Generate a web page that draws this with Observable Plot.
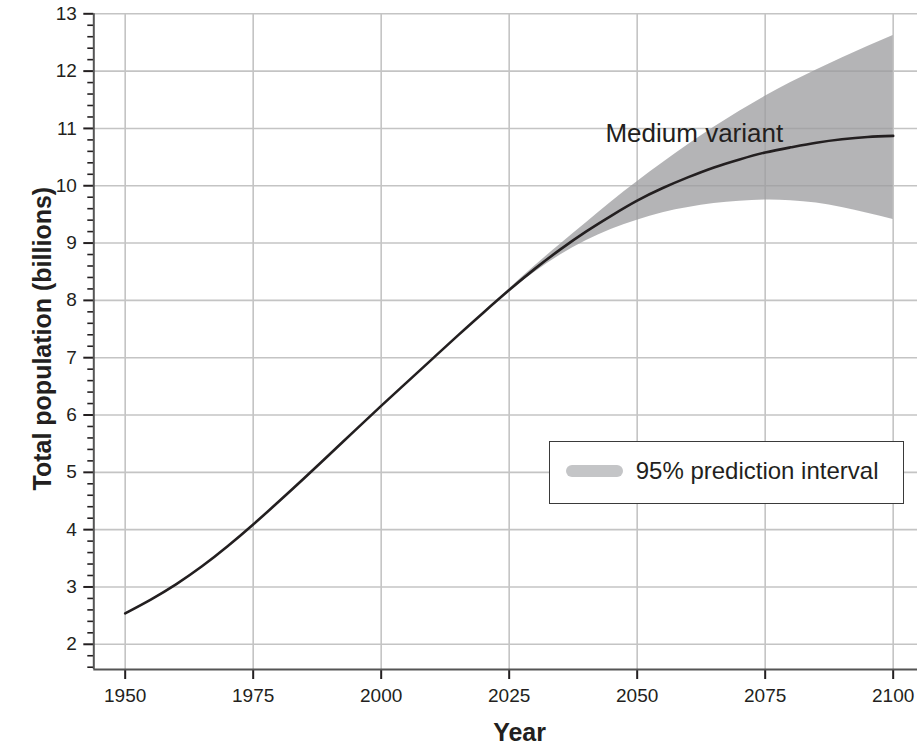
<!DOCTYPE html>
<html><head><meta charset="utf-8">
<script src="https://cdn.jsdelivr.net/npm/d3@7"></script>
<script src="https://cdn.jsdelivr.net/npm/@observablehq/plot@0.6"></script>
<style>
body{margin:0;background:#fff;font-family:"Liberation Sans",Arial,sans-serif;}
#wrap{position:relative;width:917px;height:745px;overflow:hidden;}
#legend{position:absolute;left:548.5px;top:440.5px;width:355px;height:63px;border:1.5px solid #3a3a3a;background:#fff;box-sizing:border-box;}
#legend .sw{position:absolute;left:16.2px;top:23.5px;width:57px;height:12px;border-radius:6px;background:#c4c5c7;}
#legend .lb{position:absolute;left:86.2px;top:17.2px;font-size:24px;line-height:24px;color:#231f20;white-space:nowrap;}
</style></head>
<body><div id="wrap"></div>
<script>
// ---- data ----
const years = [1950,1955,1960,1965,1970,1975,1980,1985,1990,1995,2000,2005,2010,2015,2020,2025,2030,2035,2040,2045,2050,2055,2060,2065,2070,2075,2080,2085,2090,2095,2100];
const medium = [2.54,2.78,3.05,3.36,3.71,4.09,4.49,4.90,5.32,5.74,6.16,6.57,6.98,7.39,7.79,8.18,8.55,8.89,9.20,9.48,9.74,9.96,10.15,10.32,10.46,10.58,10.67,10.75,10.81,10.85,10.87];
const bandYears = [2020,2025,2030,2035,2040,2045,2050,2055,2060,2065,2070,2075,2080,2085,2090,2095,2100];
const lower = [7.79,8.16,8.49,8.79,9.04,9.24,9.40,9.53,9.62,9.69,9.73,9.75,9.74,9.70,9.62,9.52,9.41];
const upper = [7.79,8.20,8.60,8.98,9.35,9.72,10.07,10.40,10.72,11.02,11.30,11.56,11.80,12.02,12.23,12.43,12.62];
const xTicks = [1950,1975,2000,2025,2050,2075,2100];
const yTicks = [2,3,4,5,6,7,8,9,10,11,12,13];
const xLabel = "Year";
const yLabel = "Total population (billions)";
const seriesLabel = [{year:2043.8, value:10.9, text:"Medium variant"}];
const legendLabel = "95% prediction interval";

// ---- build ----
const xDomain = [1943.87, 2104.75];
const yDomain = [1.56, 13];
const minorTicks = d3.range(16, 131, 2).map(v => v/10).filter(v => Math.abs(v - Math.round(v)) > 1e-6);
const med = years.map((y,i) => ({year:y, value:medium[i]}));
const band = bandYears.map((y,i) => ({year:y, lower:lower[i], upper:upper[i]}));

const chart = Plot.plot({
  width:917, height:745,
  marginLeft:93.3, marginRight:0, marginTop:13.3, marginBottom:76,
  x:{domain:xDomain},
  y:{domain:yDomain},
  style:{fontFamily:"'Liberation Sans', Arial, sans-serif", color:"#231f20", background:"white"},
  marks:[
    Plot.gridX(xTicks, {stroke:"#c4c4c4", strokeOpacity:1, strokeWidth:1.6}),
    Plot.gridY(yTicks, {stroke:"#c4c4c4", strokeOpacity:1, strokeWidth:1.6}),
    Plot.areaY(band, {x:"year", y1:"lower", y2:"upper", fill:"#9b9b9d", fillOpacity:0.75, curve:"natural"}),
    Plot.line(med, {x:"year", y:"value", stroke:"#231f20", strokeWidth:2.6, curve:"natural"}),
    Plot.axisY(minorTicks, {tickSize:6, text:null, stroke:"#231f20", strokeWidth:1.6, label:null}),
    Plot.axisY(yTicks, {tickSize:10, tickPadding:7, fontSize:19, label:null, stroke:"#231f20", strokeWidth:2, tickFormat:d => String(d)}),
    Plot.axisX(xTicks, {tickSize:10, tickPadding:9.3, fontSize:19, label:null, stroke:"#231f20", strokeWidth:2, tickFormat:d => String(d)}),
    Plot.ruleX([xDomain[0]], {stroke:"#555", strokeWidth:2}),
    Plot.ruleY([yDomain[0]], {stroke:"#555", strokeWidth:2}),
    Plot.text(seriesLabel, {x:"year", y:"value", text:"text", textAnchor:"start", fontSize:26, fill:"#231f20"}),
    Plot.text([xLabel], {text:d => d, frameAnchor:"bottom", textAnchor:"middle", dy:71, dx:13.9, fontSize:25, fontWeight:"bold", fill:"#231f20"}),
    Plot.text([yLabel], {text:d => d, frameAnchor:"left", textAnchor:"middle", rotate:-90, dx:-51, dy:-3, fontSize:25, fontWeight:"bold", fill:"#231f20"})
  ]
});
const wrap = document.getElementById("wrap");
wrap.appendChild(chart);
const lg = document.createElement("div");
lg.id = "legend";
lg.innerHTML = '<div class="sw"></div><div class="lb"></div>';
lg.querySelector(".lb").textContent = legendLabel;
wrap.appendChild(lg);
</script>
</body></html>
